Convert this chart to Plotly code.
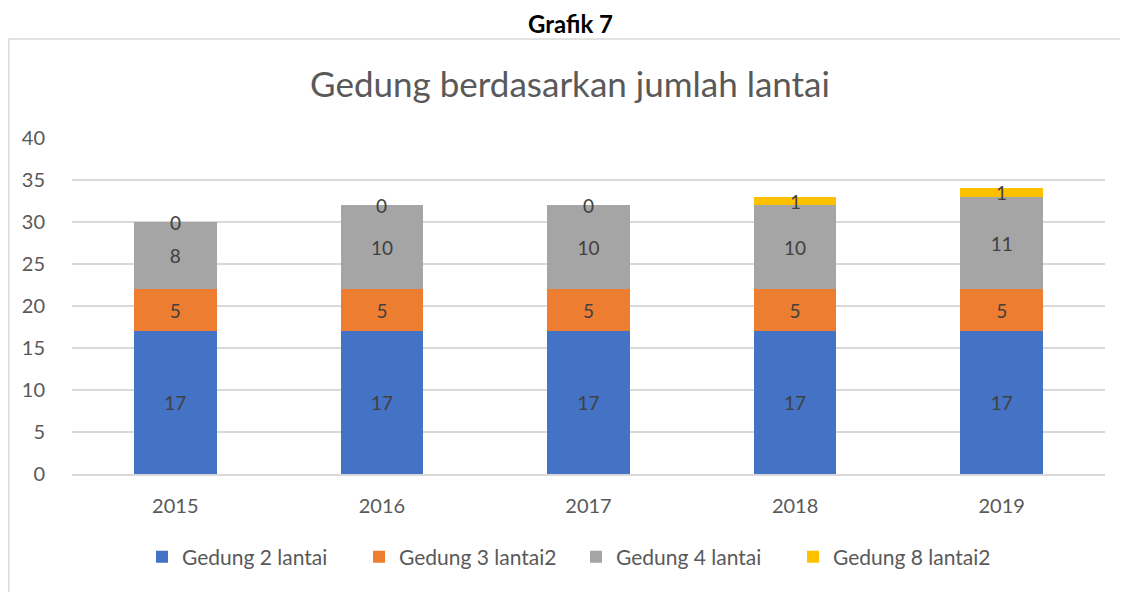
import plotly.graph_objects as go

years = ["2015", "2016", "2017", "2018", "2019"]
gedung2 = [17, 17, 17, 17, 17]
gedung3 = [5, 5, 5, 5, 5]
gedung4 = [8, 10, 10, 10, 11]
gedung8 = [0, 0, 0, 1, 1]

series = [
    ("Gedung 2 lantai", gedung2, "#4472C4"),
    ("Gedung 3 lantai2", gedung3, "#ED7D31"),
    ("Gedung 4 lantai", gedung4, "#A5A5A5"),
    ("Gedung 8 lantai2", gedung8, "#FFC000"),
]

FONT = "Lato, Open Sans, sans-serif"
TXT = "#404040"

# page has an 8px body margin; figure is drawn at (8, 8)
OFF = 8
W, H = 1128 - OFF, 592 - OFF
PL, PR, PT, PB = 72, 1105, 138, 474  # plot area in reference pixels
PW, PH = PR - PL, PB - PT


def px_x(p):
    return (p - PL) / PW


def px_y(p):
    return (PB - p) / PH


fig = go.Figure()
for i, (name, vals, col) in enumerate(series):
    last = i == len(series) - 1
    fig.add_trace(go.Bar(
        x=years, y=vals, name=name, marker=dict(color=col, line=dict(width=0)),
        text=None if last else [str(v) for v in vals],
        textposition="inside", insidetextanchor="middle",
        textfont=dict(family=FONT, size=19, color=TXT),
        constraintext="none",
    ))

annotations = []
for j, y in enumerate(years):
    base = gedung2[j] + gedung3[j] + gedung4[j]
    annotations.append(dict(
        x=j, y=base + gedung8[j] / 2, xref="x", yref="y", text=str(gedung8[j]),
        showarrow=False, font=dict(family=FONT, size=19, color=TXT),
        xanchor="center", yanchor="middle",
    ))

annotations.append(dict(
    x=px_x(570), y=px_y(23), xref="paper", yref="paper",
    text="<b>Grafik 7</b>", showarrow=False, xanchor="center", yanchor="middle",
    font=dict(family=FONT, size=24, color="#000000"),
))

fig.update_layout(
    barmode="stack",
    bargap=0.6,
    width=W, height=H,
    margin=dict(l=PL - OFF, r=W - (PR - OFF), t=PT - OFF, b=H - (PB - OFF)),
    paper_bgcolor="white", plot_bgcolor="white",
    title=dict(text="Gedung berdasarkan jumlah lantai", x=(570 - OFF) / W, xanchor="center",
               y=1 - (85 - OFF) / H, yanchor="middle",
               font=dict(family=FONT, size=35, color="#595959")),
    font=dict(family=FONT, size=19, color="#595959"),
    xaxis=dict(type="category", range=[-0.5, len(years) - 0.5], showgrid=False,
               showline=True, linecolor="#D9D9D9", linewidth=1.5,
               ticks="", ticklabelstandoff=13,
               tickfont=dict(size=20, color="#595959")),
    yaxis=dict(range=[0, 40], dtick=5, showgrid=True, gridcolor="#D9D9D9", gridwidth=1.5,
               zeroline=False, showline=False, ticks="", ticklabelstandoff=26,
               tickfont=dict(size=20, color="#595959")),
    legend=dict(orientation="h", traceorder="normal", x=px_x(576), xanchor="center",
                y=px_y(557), yanchor="middle", entrywidth=172, entrywidthmode="pixels",
                font=dict(size=21, color="#595959")),
    annotations=annotations,
    shapes=[dict(type="rect", xref="paper", yref="paper",
                 x0=px_x(8.8), x1=px_x(1140),
                 y0=px_y(600), y1=px_y(39),
                 line=dict(color="#D9D9D9", width=1.5), fillcolor="rgba(0,0,0,0)", layer="below")],
)

fig.write_html("out.html")
